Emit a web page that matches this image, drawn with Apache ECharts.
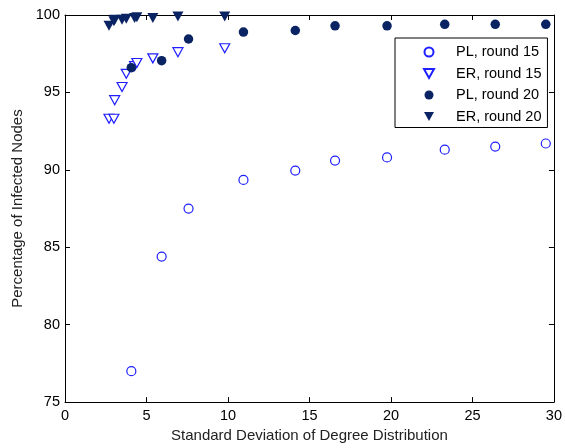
<!DOCTYPE html>
<html>
<head>
<meta charset="utf-8">
<script src="https://cdn.jsdelivr.net/npm/echarts@6/dist/echarts.min.js"></script>
<style>
  html, body { margin: 0; padding: 0; background: #fff; }
  #chart { width: 565px; height: 448px; }
</style>
</head>
<body>
<div id="chart"></div>
<script>
// Standard deviation of the degree distribution (x) for each network type
const plStdDev = [4.07, 5.93, 7.58, 10.95, 14.13, 16.57, 19.76, 23.3, 26.4, 29.5];
const erStdDev = [2.7, 3.0, 3.05, 3.5, 3.76, 4.27, 4.41, 5.39, 6.93, 9.8];

// Percentage of infected nodes after each round
const plRound15 = [77.0, 84.4, 87.5, 89.35, 89.95, 90.6, 90.8, 91.3, 91.5, 91.7];
const erRound15 = [93.3, 93.3, 94.5, 95.35, 96.2, 96.7, 96.9, 97.2, 97.6, 97.85];
const plRound20 = [96.6, 97.05, 98.45, 98.9, 99.0, 99.3, 99.3, 99.4, 99.4, 99.4];
const erRound20 = [99.3, 99.6, 99.7, 99.7, 99.75, 99.8, 99.85, 99.8, 99.9, 99.9];

const seriesNames = ['PL, round 15', 'ER, round 15', 'PL, round 20', 'ER, round 20'];
const xTicks = { min: 0, max: 30, step: 5 };
const yTicks = { min: 75, max: 100, step: 5 };

const pairs = (xs, ys) => xs.map((x, i) => [x, ys[i]]);

const openBlue = '#1f1fff';
const navy = '#0a2463';
const font = '"Liberation Sans", Arial, sans-serif';
const downTriangle = 'path://M0,0L10,0L5,9Z';

const chart = echarts.init(document.getElementById('chart'), null, { renderer: 'canvas' });

const baseAxis = {
  axisLine: { show: true, onZero: false, lineStyle: { color: '#000', width: 1 } },
  axisTick: { show: true, inside: true, length: 5, lineStyle: { color: '#000' } },
  splitLine: { show: false }
};

chart.setOption({
  animation: false,
  backgroundColor: '#fff',
  grid: { left: 65, right: 8, top: 15, bottom: 45, containLabel: false },
  xAxis: [
    Object.assign({}, baseAxis, {
      type: 'value', position: 'bottom',
      min: xTicks.min, max: xTicks.max, interval: xTicks.step,
      name: 'Standard Deviation of Degree Distribution',
      nameLocation: 'middle', nameGap: 12,
      nameTextStyle: { fontFamily: font, fontSize: 15, color: '#222' },
      axisLabel: { fontFamily: font, fontSize: 14.5, color: '#000', margin: 6 }
    }),
    Object.assign({}, baseAxis, {
      type: 'value', position: 'top',
      min: xTicks.min, max: xTicks.max, interval: xTicks.step,
      axisLabel: { show: false }
    })
  ],
  yAxis: [
    Object.assign({}, baseAxis, {
      type: 'value', position: 'left',
      min: yTicks.min, max: yTicks.max, interval: yTicks.step,
      name: 'Percentage of Infected Nodes',
      nameLocation: 'middle', nameGap: 34,
      nameTextStyle: { fontFamily: font, fontSize: 15, color: '#222' },
      axisLabel: { fontFamily: font, fontSize: 14.5, color: '#000', margin: 5 }
    }),
    Object.assign({}, baseAxis, {
      type: 'value', position: 'right',
      min: yTicks.min, max: yTicks.max, interval: yTicks.step,
      axisLabel: { show: false }
    })
  ],
  legend: {
    orient: 'vertical',
    left: 395, top: 38,
    padding: [6.5, 6, 3.5, 28],
    itemWidth: 10, itemHeight: 9, itemGap: 6.5,
    borderColor: '#000', borderWidth: 1,
    backgroundColor: '#fff',
    formatter: (name) => '{gap|}' + name,
    textStyle: {
      fontFamily: font, fontSize: 14.5, color: '#000',
      rich: { gap: { width: 17 } }
    },
    data: [
      { name: seriesNames[0], icon: 'circle' },
      { name: seriesNames[1], icon: downTriangle },
      { name: seriesNames[2], icon: 'circle' },
      { name: seriesNames[3], icon: downTriangle }
    ]
  },
  series: [
    {
      name: seriesNames[0], type: 'scatter', symbol: 'circle', symbolSize: 9,
      itemStyle: { color: '#fff', borderColor: openBlue, borderWidth: 1.2, opacity: 1 },
      data: pairs(plStdDev, plRound15), z: 3
    },
    {
      name: seriesNames[1], type: 'scatter', symbol: downTriangle, symbolSize: [10, 9],
      itemStyle: { color: '#fff', borderColor: openBlue, borderWidth: 1.2, opacity: 1 },
      data: pairs(erStdDev, erRound15), z: 3
    },
    {
      name: seriesNames[2], type: 'scatter', symbol: 'circle', symbolSize: 9.5,
      itemStyle: { color: navy, borderColor: navy, borderWidth: 0, opacity: 1 },
      data: pairs(plStdDev, plRound20), z: 4
    },
    {
      name: seriesNames[3], type: 'scatter', symbol: downTriangle, symbolSize: [11, 10],
      itemStyle: { color: navy, borderColor: navy, borderWidth: 0, opacity: 1 },
      data: pairs(erStdDev, erRound20), z: 4
    }
  ]
});
</script>
</body>
</html>
